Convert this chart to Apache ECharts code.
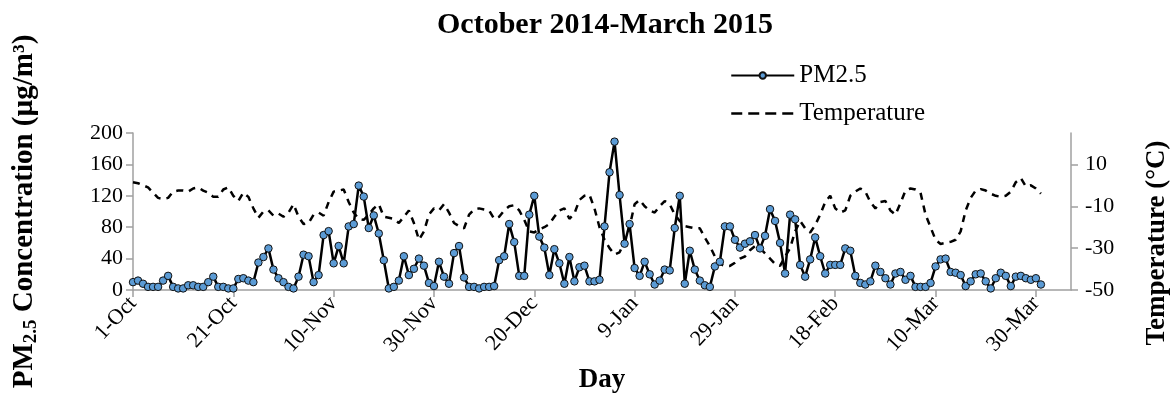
<!DOCTYPE html>
<html><head><meta charset="utf-8">
<script src="https://cdn.jsdelivr.net/npm/echarts@6/dist/echarts.min.js"></script>
<style>html,body{margin:0;padding:0;background:#fff}#c{width:1175px;height:398px}</style>
</head><body><div id="c"></div>
<script>
const chartTitle = 'October 2014-March 2015';
const tickDays = [0, 20, 40, 60, 80, 100, 120, 140, 160, 180];
const tickLabels = ['1-Oct', '21-Oct', '10-Nov', '30-Nov', '20-Dec', '9-Jan', '29-Jan', '18-Feb', '10-Mar', '30-Mar'];
const tempTicks = [-50, -30, -10, 10];

// PM2.5 daily values, 1-Oct-2014 .. 31-Mar-2015
const pm25 = [
  10, 12, 8, 4, 4, 4, 12, 18, 4, 2,
  2, 6, 6, 4, 4, 10, 17, 4, 4, 2,
  2, 14, 15, 12, 10, 35, 42, 53, 26, 15,
  10, 4, 2, 17, 45, 43, 10, 19, 70, 75,
  34, 56, 34, 81, 84, 133, 119, 79, 95, 72,
  38, 2, 4, 12, 43, 19, 27, 40, 31, 9,
  5, 36, 17, 8, 47, 56, 16, 4, 4, 2,
  4, 4, 5, 38, 43, 84, 61, 18, 18, 96,
  120, 68, 54, 19, 52, 34, 8, 42, 11, 29,
  31, 11, 11, 13, 81, 150, 189, 121, 59, 84,
  28, 18, 36, 20, 7, 12, 26, 25, 79, 120,
  8, 50, 26, 12, 6, 4, 30, 36, 81, 81,
  64, 54, 59, 62, 70, 53, 69, 103, 88, 60,
  21, 96, 90, 32, 17, 39, 67, 43, 21, 32,
  32, 32, 53, 50, 18, 9, 7, 11, 31, 23,
  15, 7, 21, 23, 13, 18, 4, 4, 4, 9,
  30, 39, 40, 23, 22, 19, 5, 11, 20, 21,
  11, 2, 15, 22, 18, 5, 17, 18, 15, 13,
  15, 7
];

// Daily temperature (°C), same days
const temperature = [
  1.5, 1, 0, -1, -3.5, -6, -6.5, -6, -3, -2.5,
  -2.5, -3, -1.5, -1, -2.5, -3.5, -5.5, -5.5, -2, -1,
  -5, -7.5, -3.5, -5.5, -11, -15.5, -12.5, -12, -14.5, -13.5,
  -15, -13, -9, -15, -18.5, -18, -14, -13, -14.5, -8,
  -3, -2.5, -2, -8, -13, -16, -16.5, -14, -11, -9,
  -15, -15.5, -16, -18, -15, -12, -18, -26, -22, -14,
  -11, -12, -9, -13, -18, -19.5, -20.5, -14, -11.5, -11,
  -11.5, -12, -16, -15, -12, -10, -9.5, -12, -16.5, -22,
  -22.5, -21, -20, -18.5, -15, -12, -11, -16, -13.5, -7,
  -5, -4.5, -11, -20, -26, -30, -33, -32, -27, -20,
  -9, -7, -10, -12, -13, -10, -7.5, -9, -14, -17,
  -19.5, -20, -20.5, -20.5, -25, -29, -34, -37.5, -38.5, -38.5,
  -37, -35, -34, -31, -29, -30, -32.5, -35, -37.5, -38.5,
  -34, -30, -22, -17, -20.5, -22.5, -19, -14, -8, -5,
  -11, -13, -12, -5, -3, -1.5, -3, -8, -11, -8,
  -7.5, -12, -14, -8.5, -2.5, -1.5, -2, -3.5, -14, -20,
  -26, -28, -27.5, -27, -26, -22, -12, -6, -2.5, -1.8,
  -2.5, -4, -5, -5.5, -5, -3, 1.5, 3.5, -0.5, 0,
  -1.5, -4
];

const serif = '"Liberation Serif", "Times New Roman", serif';
const axisGrey = '#a0a0a0';
const chart = echarts.init(document.getElementById('c'), null, {renderer: 'canvas'});
chart.setOption({
  animation: false,
  backgroundColor: '#fff',
  title: {
    text: chartTitle, left: 432, top: 5,
    textStyle: {fontFamily: serif, fontWeight: 'bold', fontSize: 30, color: '#000'}
  },
  legend: {
    data: [
      {name: 'PM2.5'},
      {name: 'Temperature', itemStyle: {opacity: 0}, lineStyle: {type: [11, 6], width: 2.5}}
    ],
    orient: 'vertical', left: 725, top: 58,
    itemWidth: 63, itemHeight: 8, itemGap: 13,
    textStyle: {fontFamily: serif, fontSize: 25, color: '#000'}
  },
  grid: {left: 133, right: 104, top: 133, bottom: 108, outerBoundsMode: 'none'},
  graphic: [{
    type: 'text', x: 1157, y: 243, rotation: Math.PI / 2,
    style: {text: 'Temperature (°C)', fontFamily: serif, fontWeight: 'bold', fontSize: 27, fill: '#000', align: 'center', verticalAlign: 'middle'}
  }],
  xAxis: {
    type: 'value', min: 0, max: 187,
    name: 'Day', nameLocation: 'middle', nameGap: 77,
    nameTextStyle: {fontFamily: serif, fontWeight: 'bold', fontSize: 27, color: '#000'},
    axisLine: {show: true, lineStyle: {color: axisGrey, width: 1.5}},
    axisTick: {show: true, length: 7, customValues: tickDays, lineStyle: {color: axisGrey, width: 1.5}},
    axisLabel: {
      customValues: tickDays, rotate: 47, margin: 10,
      fontFamily: serif, fontSize: 22, color: '#000',
      formatter: v => tickLabels[tickDays.indexOf(v)] || ''
    },
    splitLine: {show: false}
  },
  yAxis: [{
    type: 'value', min: 0, max: 200, interval: 40, position: 'left',
    name: 'PM{sub|2.5} Concentration (µg/m³)', nameLocation: 'middle', nameGap: 92,
    nameTextStyle: {
      fontFamily: serif, fontWeight: 'bold', fontSize: 29, color: '#000', lineHeight: 32,
      rich: {sub: {fontFamily: serif, fontWeight: 'bold', fontSize: 19, color: '#000', verticalAlign: 'bottom', lineHeight: 32, padding: [11, 0, 0, 0]}}
    },
    axisLine: {show: true, lineStyle: {color: axisGrey, width: 1.5}},
    axisTick: {show: true, length: 7, lineStyle: {color: axisGrey, width: 1.5}},
    axisLabel: {fontFamily: serif, fontSize: 22, color: '#000', margin: 10},
    splitLine: {show: false}
  }, {
    type: 'value', min: -50, max: 25, position: 'right',
    axisLine: {show: true, lineStyle: {color: axisGrey, width: 1.5}},
    axisTick: {show: true, length: 7, customValues: tempTicks, lineStyle: {color: axisGrey, width: 1.5}},
    axisLabel: {customValues: tempTicks, fontFamily: serif, fontSize: 22, color: '#000', margin: 14},
    splitLine: {show: false}
  }],
  series: [{
    name: 'Temperature', type: 'line', yAxisIndex: 1, z: 2,
    data: temperature.map((v, i) => [i, v]),
    symbol: 'none', smooth: false,
    itemStyle: {color: '#000'},
    lineStyle: {color: '#000', width: 2.5, type: [7, 6]}
  }, {
    name: 'PM2.5', type: 'line', yAxisIndex: 0, z: 3,
    data: pm25.map((v, i) => [i, v]),
    symbol: 'circle', symbolSize: 7.5, showAllSymbol: true,
    itemStyle: {color: '#5B9BD5', borderColor: '#111', borderWidth: 1},
    lineStyle: {color: '#000', width: 2.5}
  }]
});
</script></body></html>
